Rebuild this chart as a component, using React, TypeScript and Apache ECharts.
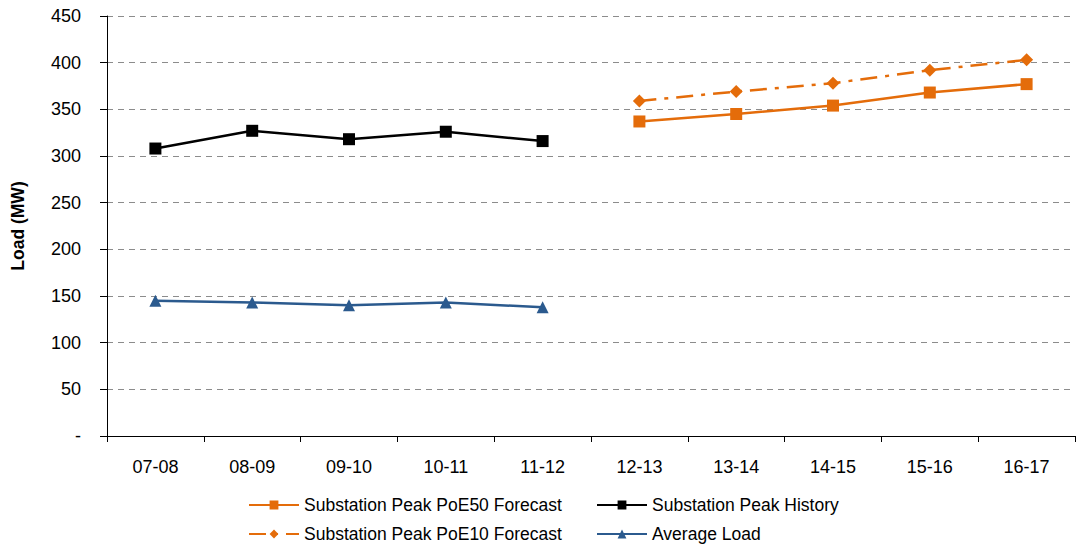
import React, { useEffect, useRef } from "react";
import * as echarts from "echarts";

// Financial years on the category axis
const categories = ["07-08", "08-09", "09-10", "10-11", "11-12", "12-13", "13-14", "14-15", "15-16", "16-17"];

// Load values in MW
const peakHistory = [308, 327, 318, 326, 316, null, null, null, null, null];
const averageLoad = [145, 143, 140, 143, 138, null, null, null, null, null];
const poe50Forecast = [null, null, null, null, null, 337, 345, 354, 368, 377];
const poe10Forecast = [null, null, null, null, null, 359, 369, 378, 392, 403];

// Value axis ticks
const yMin = 0;
const yMax = 450;
const yStep = 50;

const ORANGE = "#E46C0A";
const BLUE = "#2B5A8E";
const FONT = "'Liberation Sans', Arial, sans-serif";

export default function App() {
  const ref = useRef<HTMLDivElement>(null);

  useEffect(() => {
    if (!ref.current) return;
    const chart = echarts.init(ref.current, undefined, { renderer: "svg" });

    const legendText = { fontFamily: FONT, fontSize: 17.5, color: "#000", lineHeight: 17 };
    const legendBase = {
      orient: "vertical",
      top: 496,
      height: 50,
      padding: 0,
      itemWidth: 50,
      itemHeight: 11,
      itemGap: 11,
      textStyle: legendText,
    };

    chart.setOption({
      animation: false,
      textStyle: { fontFamily: FONT },
      grid: { left: 107, right: 2, top: 16, bottom: 110, containLabel: false },
      legend: [
        {
          ...legendBase,
          left: 248,
          data: ["Substation Peak PoE50 Forecast", "Substation Peak PoE10 Forecast"],
        },
        {
          ...legendBase,
          left: 596,
          data: ["Substation Peak History", "Average Load"],
        },
      ],
      xAxis: {
        type: "category",
        data: categories,
        boundaryGap: true,
        axisLine: { show: true, lineStyle: { color: "#000", width: 1 } },
        axisTick: { show: true, alignWithLabel: false, length: 6, lineStyle: { color: "#000" } },
        axisLabel: { margin: 22, fontSize: 18, color: "#000", fontFamily: FONT },
        splitLine: { show: false },
      },
      yAxis: {
        type: "value",
        min: yMin,
        max: yMax,
        interval: yStep,
        name: "Load (MW)",
        nameLocation: "middle",
        nameGap: 80,
        nameRotate: 90,
        nameTextStyle: { fontSize: 17.5, fontWeight: "bold", color: "#000", fontFamily: FONT },
        axisLine: { show: true, lineStyle: { color: "#000", width: 1 } },
        axisTick: { show: true, length: 7, lineStyle: { color: "#000" } },
        axisLabel: {
          margin: 26,
          fontSize: 18,
          color: "#000",
          fontFamily: FONT,
          formatter: (v: number) => (v === 0 ? "-" : String(v)),
        },
        splitLine: { show: true, lineStyle: { color: "#8c8c8c", width: 1, type: [6, 5] } },
      },
      series: [
        {
          name: "Substation Peak PoE50 Forecast",
          type: "line",
          data: poe50Forecast,
          symbol: "rect",
          symbolSize: 12,
          itemStyle: { color: ORANGE },
          lineStyle: { color: ORANGE, width: 2.5 },
        },
        {
          name: "Substation Peak PoE10 Forecast",
          type: "line",
          data: poe10Forecast,
          symbol: "diamond",
          symbolSize: 13,
          itemStyle: { color: ORANGE },
          lineStyle: { color: ORANGE, width: 2.5, type: [17, 8, 4, 8] },
        },
        {
          name: "Substation Peak History",
          type: "line",
          data: peakHistory,
          symbol: "rect",
          symbolSize: 12,
          itemStyle: { color: "#000" },
          lineStyle: { color: "#000", width: 2.5 },
        },
        {
          name: "Average Load",
          type: "line",
          data: averageLoad,
          symbol: "triangle",
          symbolSize: 12,
          itemStyle: { color: BLUE },
          lineStyle: { color: BLUE, width: 2.5 },
        },
      ],
    });

    return () => chart.dispose();
  }, []);

  return (
    <div
      ref={ref}
      style={{ position: "absolute", left: 0, top: 0, width: 1077, height: 546, background: "#fff" }}
    />
  );
}
